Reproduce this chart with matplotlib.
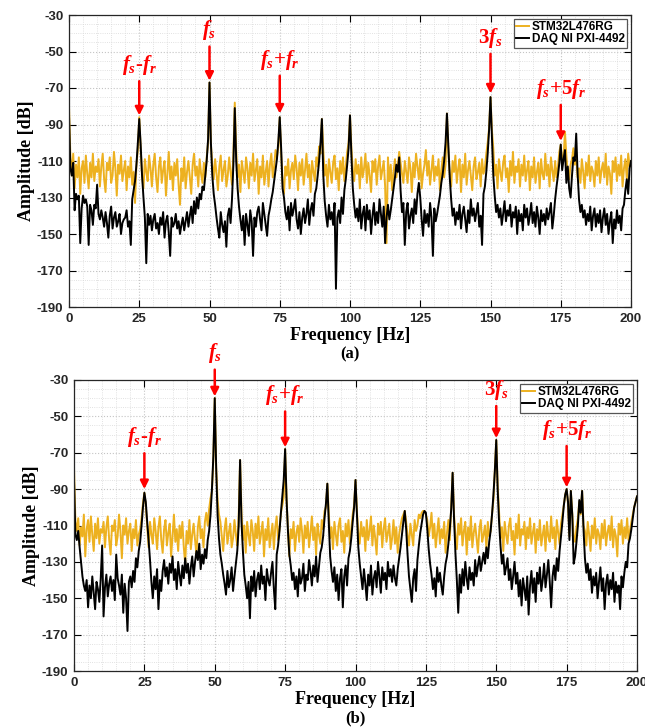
import numpy as np
import matplotlib
matplotlib.use("Agg")
import matplotlib.pyplot as plt
from matplotlib.ticker import MultipleLocator

plt.rcParams['font.family'] = ['Liberation Sans', 'DejaVu Sans']
plt.rcParams['axes.unicode_minus'] = False
plt.rcParams['mathtext.fontset'] = 'custom'
plt.rcParams['mathtext.it'] = 'Liberation Serif:italic:bold'
plt.rcParams['mathtext.rm'] = 'Liberation Serif:bold'
plt.rcParams['mathtext.bf'] = 'Liberation Serif:bold'

# spectra in dB, 0.5 Hz bins from 0 to 200 Hz
freq = np.linspace(0, 200, 401)

a_stm = [
    -80, -108, -118, -106, -125, -112, -119, -108, -128, -114, -110, -122, -107, -117, -125, -111, -119, -106, -121, -113,
    -116, -109, -124, -113, -106, -120, -127, -111, -115, -108, -122, -118, -105, -114, -129, -112, -117, -107, -121, -115,
    -110, -126, -113, -119, -108, -123, -116, -133, -112, -104, -86, -103, -118, -125, -109, -116, -121, -107, -114, -124,
    -112, -106, -119, -127, -113, -108, -122, -115, -110, -129, -117, -105, -120, -113, -126, -111, -118, -109, -123, -134,
    -114, -121, -108, -125, -116, -110, -119, -128, -112, -106, -118, -113, -124, -109, -117, -122, -111, -119, -108, -100,
    -67, -101, -112, -120, -109, -117, -126, -113, -107, -121, -115, -110, -124, -118, -108, -116, -123, -106, -78, -104,
    -119, -112, -127, -110, -116, -122, -108, -114, -125, -111, -118, -106, -121, -115, -109, -128, -113, -119, -107, -123,
    -116, -110, -124, -112, -106, -119, -113, -104, -108, -102, -86, -106, -121, -128, -113, -118, -109, -125, -115, -111,
    -120, -107, -114, -126, -111, -118, -109, -123, -115, -106, -119, -112, -127, -110, -116, -121, -108, -113, -102, -106,
    -87, -104, -118, -112, -124, -109, -116, -122, -111, -107, -120, -114, -126, -110, -117, -108, -121, -113, -105, -100,
    -85, -103, -115, -121, -109, -117, -112, -125, -108, -119, -114, -106, -122, -111, -118, -127, -110, -116, -109, -123,
    -113, -107, -120, -115, -110, -124, -155, -108, -121, -112, -126, -116, -109, -119, -113, -105, -111, -117, -122, -110,
    -116, -122, -108, -114, -127, -111, -119, -106, -113, -120, -109, -125, -117, -112, -104, -118, -110, -123, -115, -107,
    -121, -113, -118, -109, -126, -115, -108, -119, -112, -84, -105, -117, -124, -110, -116, -107, -122, -114, -109, -127,
    -112, -119, -106, -123, -115, -110, -118, -126, -113, -108, -120, -116, -111, -124, -109, -117, -114, -106, -100, -92,
    -75, -93, -103, -118, -112, -125, -109, -116, -121, -111, -107, -119, -114, -127, -110, -118, -105, -122, -113, -116,
    -109, -124, -112, -118, -107, -121, -115, -110, -126, -113, -119, -108, -122, -116, -111, -125, -109, -117, -120, -106,
    -118, -112, -124, -108, -115, -121, -110, -119, -113, -105, -101, -110, -108, -94, -107, -117, -120, -112, -109, -103,
    -112, -106, -119, -114, -122, -109, -116, -125, -111, -118, -107, -121, -113, -116, -124, -110, -118, -108, -122, -115,
    -111, -119, -106, -123, -113, -117, -128, -110, -116, -108, -121, -112, -118, -107, -124, -114, -109, -120, -106, -113,
    -110]

a_daq = [
    -85, -114, -118, -111, -137, -128, -131, -129, -155, -136, -129, -133, -131, -135, -156, -134, -137, -145, -134, -136,
    -123, -139, -142, -137, -141, -146, -138, -144, -152, -140, -135, -147, -141, -138, -146, -143, -139, -150, -144, -142,
    -141, -137, -146, -143, -156, -131, -126, -121, -112, -100, -87, -101, -118, -130, -141, -166, -139, -145, -140, -148,
    -142, -139, -147, -144, -150, -141, -145, -138, -152, -143, -140, -149, -162, -141, -146, -144, -139, -147, -143, -150,
    -145, -141, -148, -143, -138, -146, -140, -135, -144, -132, -139, -130, -136, -128, -131, -124, -126, -118, -110, -98,
    -67, -100, -118, -128, -134, -141, -147, -152, -138, -145, -149, -143, -157, -140, -136, -144, -131, -112, -81, -110,
    -125, -135, -142, -148, -140, -156, -139, -145, -151, -137, -143, -162, -141, -146, -138, -135, -142, -148, -133, -139,
    -145, -151, -140, -136, -131, -127, -121, -115, -109, -99, -86, -103, -125, -130, -138, -142, -135, -148, -133, -140,
    -136, -131, -142, -147, -138, -150, -141, -136, -144, -139, -131, -145, -137, -133, -140, -128, -125, -118, -110, -100,
    -87, -118, -132, -140, -146, -134, -142, -138, -145, -133, -180, -141, -137, -144, -130, -139, -126, -120, -112, -103,
    -85, -107, -125, -134, -141, -136, -143, -131, -147, -139, -135, -148, -134, -142, -137, -150, -140, -133, -145, -138,
    -144, -131, -139, -146, -135, -155, -141, -134, -142, -137, -131, -125, -119, -112, -116, -108, -126, -138, -133, -156,
    -138, -133, -147, -140, -136, -144, -131, -139, -128, -122, -130, -142, -151, -137, -144, -139, -146, -133, -141, -162,
    -136, -143, -139, -134, -129, -122, -117, -110, -100, -84, -102, -119, -131, -140, -136, -145, -138, -142, -134, -147,
    -139, -135, -142, -149, -137, -144, -131, -140, -136, -143, -138, -133, -146, -140, -156, -128, -124, -116, -106, -93,
    -75, -96, -118, -129, -138, -134, -141, -136, -145, -139, -132, -143, -137, -140, -134, -146, -138, -141, -135, -150,
    -137, -143, -139, -148, -134, -141, -136, -145, -140, -133, -144, -138, -146, -135, -141, -150, -137, -143, -139, -145,
    -136, -142, -138, -133, -147, -140, -131, -124, -118, -111, -101, -115, -109, -104, -122, -113, -125, -130, -118, -108,
    -110, -95, -117, -131, -138, -134, -141, -137, -145, -139, -143, -135, -148, -140, -136, -146, -139, -144, -137, -149,
    -141, -136, -145, -139, -150, -143, -138, -155, -142, -147, -137, -144, -140, -148, -136, -134, -126, -120, -128, -114,
    -110]

b_stm = [
    -78, -108, -113, -106, -121, -111, -116, -104, -127, -112, -107, -119, -105, -115, -124, -109, -117, -106, -120, -112,
    -114, -108, -122, -111, -105, -118, -126, -110, -113, -107, -121, -116, -104, -113, -128, -110, -115, -106, -120, -113,
    -109, -124, -112, -117, -107, -121, -115, -112, -106, -98, -92, -99, -110, -122, -108, -115, -120, -106, -113, -123,
    -111, -105, -118, -125, -112, -107, -121, -114, -109, -127, -116, -104, -119, -112, -124, -110, -117, -108, -122, -131,
    -113, -120, -107, -123, -115, -109, -118, -126, -111, -105, -117, -112, -122, -108, -103, -110, -101, -95, -91, -74,
    -40, -78, -96, -104, -108, -116, -124, -112, -106, -120, -114, -109, -122, -117, -107, -115, -121, -105, -74, -103,
    -118, -110, -125, -108, -115, -121, -107, -113, -124, -109, -117, -105, -120, -114, -108, -127, -112, -118, -106, -122,
    -115, -109, -123, -111, -105, -118, -112, -103, -99, -94, -68, -96, -112, -127, -112, -117, -108, -124, -114, -110,
    -119, -106, -113, -125, -110, -117, -108, -122, -114, -105, -118, -111, -126, -109, -115, -120, -107, -112, -102, -100,
    -87, -103, -117, -111, -123, -108, -115, -121, -110, -106, -119, -113, -125, -109, -116, -107, -120, -112, -104, -99,
    -85, -102, -114, -120, -108, -116, -111, -124, -107, -118, -113, -105, -121, -110, -117, -126, -109, -115, -108, -122,
    -112, -106, -119, -114, -109, -123, -117, -107, -120, -111, -125, -115, -110, -106, -104, -102, -108, -116, -121, -109,
    -115, -121, -107, -113, -110, -104, -106, -103, -102, -102, -104, -107, -116, -111, -103, -117, -109, -122, -114, -106,
    -120, -112, -117, -108, -125, -114, -107, -118, -100, -81, -104, -116, -123, -109, -115, -106, -121, -113, -108, -126,
    -111, -118, -105, -122, -114, -109, -117, -125, -112, -107, -119, -115, -110, -123, -108, -116, -113, -104, -96, -80,
    -63, -88, -102, -117, -111, -124, -108, -115, -120, -110, -106, -118, -113, -126, -109, -117, -104, -121, -112, -115,
    -108, -123, -111, -117, -106, -120, -114, -109, -125, -112, -118, -107, -121, -115, -110, -124, -108, -116, -119, -105,
    -117, -111, -123, -107, -114, -120, -109, -104, -99, -93, -90, -98, -116, -91, -104, -116, -119, -111, -106, -97,
    -104, -91, -110, -113, -121, -108, -115, -124, -110, -117, -106, -120, -112, -115, -123, -109, -117, -107, -121, -114,
    -110, -118, -105, -122, -112, -116, -127, -109, -115, -107, -120, -111, -117, -106, -118, -113, -108, -104, -100, -97,
    -94]

b_daq = [
    -85, -115, -118, -113, -122, -130, -138, -143, -146, -140, -155, -143, -150, -138, -147, -156, -141, -145, -152, -139,
    -121, -160, -144, -137, -149, -142, -138, -146, -140, -151, -126, -139, -143, -148, -137, -158, -142, -150, -168, -141,
    -138, -144, -135, -141, -128, -133, -124, -119, -110, -100, -92, -97, -108, -118, -129, -141, -150, -138, -145, -134,
    -156, -140, -146, -135, -129, -138, -133, -142, -131, -136, -127, -140, -134, -145, -130, -137, -143, -132, -139, -128,
    -136, -131, -142, -133, -127, -138, -130, -124, -129, -120, -134, -126, -131, -123, -128, -118, -113, -104, -90, -72,
    -40, -78, -104, -117, -126, -131, -137, -142, -148, -135, -144, -140, -133, -146, -138, -131, -124, -110, -74, -108,
    -124, -137, -143, -150, -141, -161, -138, -146, -135, -149, -140, -136, -145, -132, -142, -138, -151, -134, -140, -143,
    -136, -130, -145, -156, -126, -121, -113, -103, -94, -85, -68, -95, -113, -126, -132, -140, -136, -145, -138, -149,
    -134, -142, -139, -131, -146, -137, -140, -129, -135, -143, -132, -138, -127, -141, -133, -125, -122, -116, -106, -98,
    -87, -108, -127, -135, -141, -133, -146, -137, -151, -139, -134, -155, -138, -132, -143, -128, -124, -117, -108, -100,
    -85, -104, -122, -131, -138, -145, -134, -142, -151, -137, -143, -132, -148, -139, -135, -144, -130, -138, -147, -133,
    -140, -136, -145, -130, -138, -134, -141, -132, -139, -143, -134, -128, -122, -115, -108, -102, -112, -126, -138, -145,
    -152, -139, -134, -146, -129, -121, -114, -109, -104, -102, -103, -112, -123, -131, -137, -145, -139, -149, -133, -141,
    -136, -143, -148, -138, -131, -127, -120, -112, -101, -81, -106, -125, -140, -158, -137, -147, -134, -143, -130, -139,
    -145, -133, -140, -136, -143, -129, -138, -132, -127, -135, -130, -125, -131, -122, -128, -119, -113, -104, -93, -80,
    -63, -90, -108, -121, -131, -126, -137, -133, -128, -140, -134, -145, -138, -130, -142, -136, -149, -140, -154, -139,
    -145, -151, -138, -159, -143, -135, -147, -139, -152, -136, -142, -133, -146, -140, -131, -144, -137, -129, -141, -155,
    -138, -132, -140, -128, -135, -124, -116, -108, -99, -93, -90, -97, -118, -91, -104, -131, -127, -119, -110, -96,
    -103, -91, -112, -128, -136, -131, -140, -134, -147, -138, -143, -136, -150, -141, -133, -146, -139, -156, -142, -137,
    -148, -140, -145, -136, -152, -141, -147, -143, -156, -138, -144, -136, -130, -133, -120, -117, -112, -106, -100, -97,
    -94]

# annotation labels: (text, frequency, arrow tip dB, text baseline dB)
notes_a = [(r'$f_s$-$f_r$', 25, -85, -64),
           (r'$f_s$', 50, -66, -45),
           (r'$f_s$+$f_r$', 75, -84, -61),
           (r'3$f_s$', 150, -73, -49),
           (r'$f_s$+5$f_r$', 175, -99, -77)]
notes_b = [(r'$f_s$-$f_r$', 25, -90, -68),
           (r'$f_s$', 50, -39, -22),
           (r'$f_s$+$f_r$', 75, -67, -45),
           (r'3$f_s$', 150, -62, -42),
           (r'$f_s$+5$f_r$', 175, -89, -64)]

yticks = np.arange(-190, -29, 20)
xticks = np.arange(0, 201, 25)

orange = '#EDB120'
serif = 'Liberation Serif'

fig = plt.figure(figsize=(6.45, 7.28), dpi=100)
ax_a = fig.add_axes([69/645, 1-307/728, 562/645, 292/728])
ax_b = fig.add_axes([74/645, 1-671/728, 563/645, 291/728])


def draw(ax, stm, daq, notes, tag):
    ax.plot(freq, stm, color=orange, lw=1.4, label='STM32L476RG')
    ax.plot(freq, daq, color='black', lw=1.4, label='DAQ NI PXI-4492')
    ax.set_xlim(0, 200)
    ax.set_ylim(-190, -30)
    ax.set_xticks(xticks)
    ax.set_yticks(yticks)
    ax.xaxis.set_minor_locator(MultipleLocator(5))
    ax.yaxis.set_minor_locator(MultipleLocator(5))
    ax.grid(which='major', color='#c4c4c4', ls=':', lw=0.8)
    ax.grid(which='minor', color='#d8d8d8', ls=':', lw=0.6)
    ax.set_axisbelow(True)
    ax.tick_params(which='major', direction='in', length=5, width=0.8,
                   top=True, right=True, labelsize=9.5, pad=4)
    ax.tick_params(which='minor', length=0)
    for lab in ax.get_xticklabels() + ax.get_yticklabels():
        lab.set_fontweight('bold')
        lab.set_color('#262626')
    for sp in ax.spines.values():
        sp.set_color('#262626')
        sp.set_linewidth(0.9)
    ax.set_xlabel('Frequency [Hz]', fontfamily=serif, fontweight='bold',
                  fontsize=13, labelpad=2)
    ax.set_ylabel('Amplitude [dB]', fontfamily=serif, fontweight='bold',
                  fontsize=13, labelpad=1)
    leg = ax.legend(loc='upper right', handlelength=1.1,
                    handletextpad=0.25, borderpad=0.2, labelspacing=0.05,
                    borderaxespad=0.3, fancybox=False, framealpha=1,
                    prop={'weight': 'bold', 'size': 8.5})
    leg.get_frame().set_edgecolor('#555555')
    leg.get_frame().set_linewidth(0.9)
    for txt, f, tip, base in notes:
        ax.annotate(txt, xy=(f, tip), xytext=(f, base), ha='center', va='bottom',
                    color='red', fontsize=15, fontfamily=serif, fontweight='bold',
                    annotation_clip=False,
                    arrowprops=dict(arrowstyle='-|>', color='red', lw=1.8,
                                    mutation_scale=12, shrinkA=1, shrinkB=0))
    ax.text(0.5, -0.135, tag, transform=ax.transAxes, ha='center', va='top',
            fontfamily=serif, fontweight='bold', fontsize=12)


draw(ax_a, a_stm, a_daq, notes_a, '(a)')
draw(ax_b, b_stm, b_daq, notes_b, '(b)')

fig.savefig('out.png', dpi=100)
